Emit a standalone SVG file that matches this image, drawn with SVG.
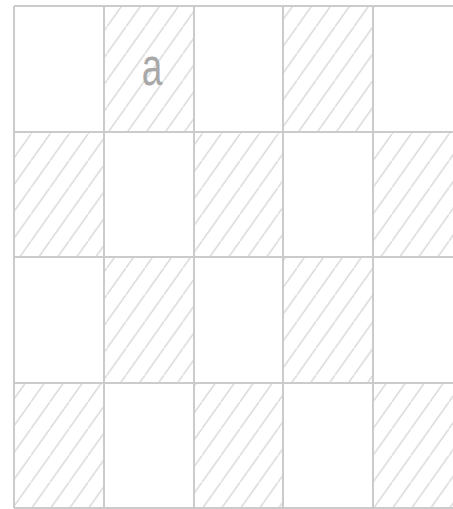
<svg xmlns="http://www.w3.org/2000/svg" width="453" height="509" viewBox="0 0 453 509">
<style>
.cell{stroke:none}
.h{fill:url(#hatch)}
.w{fill:#fff}
.grid{stroke:#cbcbcb;stroke-width:2;fill:none}
.lbl{font-family:"Liberation Sans",Arial,sans-serif;font-size:37px;fill:#a8a8a8;text-anchor:middle}
</style>
<defs>
<pattern id="hatch" patternUnits="userSpaceOnUse" x="11.9" y="0" width="19" height="26.8">
<rect width="19" height="26.8" fill="#fff"/>
<line x1="-1" y1="28.21" x2="20" y2="-1.41" stroke="#d8d8d8" stroke-width="1.4"/>
</pattern>
</defs>
<rect width="453" height="509" fill="#fff"/>
<g id="cells">
<g id="r0c0"><rect class="cell w" x="14" y="6" width="90" height="126"/></g>
<g id="r0c1"><rect class="cell h" x="104" y="6" width="90" height="126"/><text class="lbl" transform="translate(152,85) scale(1,1.39)">a</text></g>
<g id="r0c2"><rect class="cell w" x="194" y="6" width="89" height="126"/></g>
<g id="r0c3"><rect class="cell h" x="283" y="6" width="90" height="126"/></g>
<g id="r0c4"><rect class="cell w" x="373" y="6" width="80" height="126"/></g>
<g id="r1c0"><rect class="cell h" x="14" y="132" width="90" height="125"/></g>
<g id="r1c1"><rect class="cell w" x="104" y="132" width="90" height="125"/></g>
<g id="r1c2"><rect class="cell h" x="194" y="132" width="89" height="125"/></g>
<g id="r1c3"><rect class="cell w" x="283" y="132" width="90" height="125"/></g>
<g id="r1c4"><rect class="cell h" x="373" y="132" width="80" height="125"/></g>
<g id="r2c0"><rect class="cell w" x="14" y="257" width="90" height="126"/></g>
<g id="r2c1"><rect class="cell h" x="104" y="257" width="90" height="126"/></g>
<g id="r2c2"><rect class="cell w" x="194" y="257" width="89" height="126"/></g>
<g id="r2c3"><rect class="cell h" x="283" y="257" width="90" height="126"/></g>
<g id="r2c4"><rect class="cell w" x="373" y="257" width="80" height="126"/></g>
<g id="r3c0"><rect class="cell h" x="14" y="383" width="90" height="125"/></g>
<g id="r3c1"><rect class="cell w" x="104" y="383" width="90" height="125"/></g>
<g id="r3c2"><rect class="cell h" x="194" y="383" width="89" height="125"/></g>
<g id="r3c3"><rect class="cell w" x="283" y="383" width="90" height="125"/></g>
<g id="r3c4"><rect class="cell h" x="373" y="383" width="80" height="125"/></g>
</g>
<g id="gridlines" class="grid">
<path d="M14 6V508M104 6V508M194 6V508M283 6V508M373 6V508"/>
<path d="M14 6H453M14 132H453M14 257H453M14 383H453M14 508H453"/>
</g>
</svg>
